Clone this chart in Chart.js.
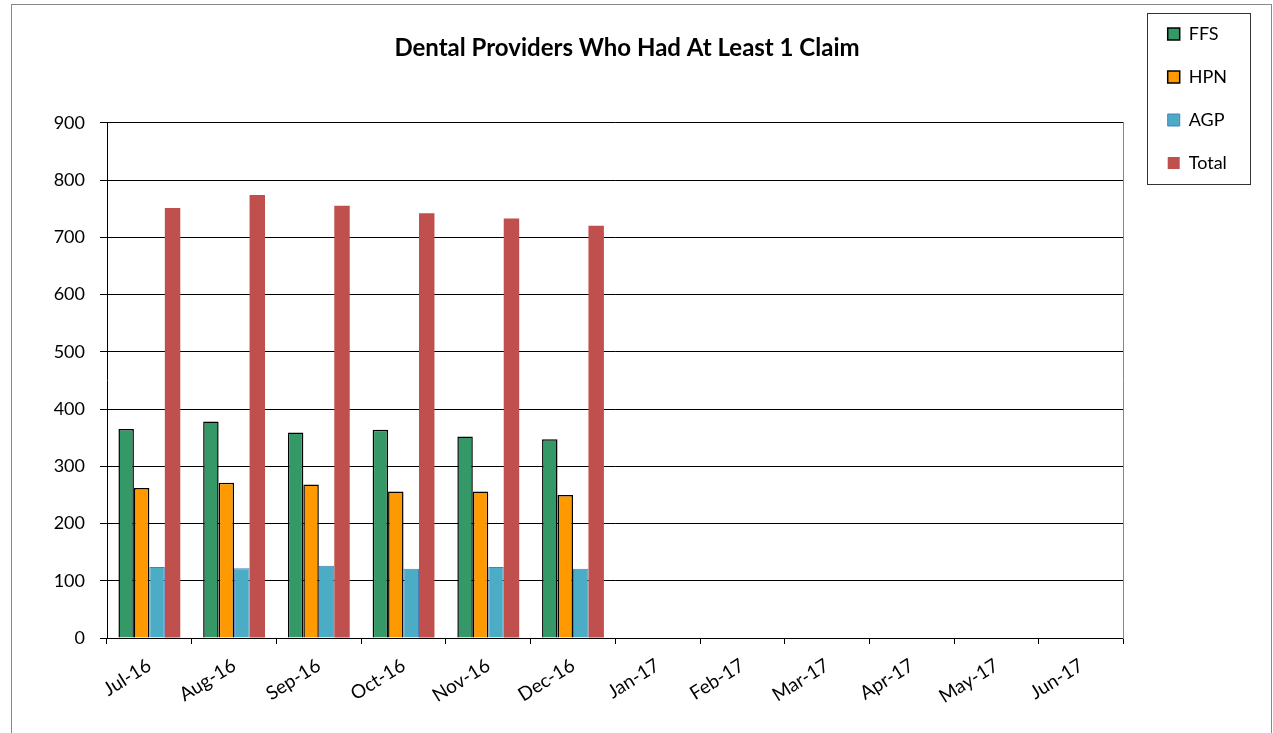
<!DOCTYPE html>
<html>
<head>
<meta charset="utf-8">
<script src="https://cdn.jsdelivr.net/npm/chart.js@4.4.0/dist/chart.umd.min.js"></script>
<style>
  html, body { margin: 0; padding: 0; background: #fff; overflow: hidden; }
  #wrap { position: absolute; left: 0; top: 0; width: 1273px; height: 733px; }
</style>
</head>
<body>
<div id="wrap"><canvas id="c" width="1273" height="733"></canvas></div>
<script>
const categories = ['Jul-16','Aug-16','Sep-16','Oct-16','Nov-16','Dec-16','Jan-17','Feb-17','Mar-17','Apr-17','May-17','Jun-17'];
const ffs   = [365, 378, 359, 364, 352, 347, null, null, null, null, null, null];
const hpn   = [262, 271, 268, 256, 256, 250, null, null, null, null, null, null];
const agp   = [124, 122, 126, 121, 124, 121, null, null, null, null, null, null];
const total = [751, 774, 755, 742, 733, 720, null, null, null, null, null, null];
const yTicks = [0, 100, 200, 300, 400, 500, 600, 700, 800, 900];
const titleText = 'Dental Providers Who Had At Least 1 Claim';

const FONT = 'Lato, "Open Sans", sans-serif';

const frame = {
  id: 'frame',
  beforeDraw(chart) {
    const ctx = chart.ctx;
    ctx.save();
    ctx.fillStyle = '#fff';
    ctx.fillRect(0, 0, chart.width, chart.height);
    ctx.strokeStyle = '#888';
    ctx.lineWidth = 1;
    ctx.strokeRect(11.5, 4.5, 1260, 800);
    ctx.restore();
  },
  afterDraw(chart) {
    const lg = chart.legend;
    if (!lg || !lg.legendHitBoxes || !lg.legendHitBoxes.length) return;
    const first = lg.legendHitBoxes[0];
    const ctx = chart.ctx;
    ctx.save();
    ctx.strokeStyle = '#333';
    ctx.lineWidth = 1;
    ctx.strokeRect(Math.round(first.left - 21) + 0.5, Math.round(first.top - 12) + 0.5, 103, 171);
    ctx.restore();
  }
};

new Chart(document.getElementById('c'), {
  type: 'bar',
  data: {
    labels: categories,
    datasets: [
      { label: 'FFS', data: ffs, backgroundColor: '#349966', borderColor: '#000', borderWidth: 1.5 },
      { label: 'HPN', data: hpn, backgroundColor: '#FF9900', borderColor: '#000', borderWidth: 1.5 },
      { label: 'AGP', data: agp, backgroundColor: '#4BACC6', borderColor: '#4A7EBB', borderWidth: 1 },
      { label: 'Total', data: total, backgroundColor: '#C0504D', borderColor: '#C0504D', borderWidth: 0 }
    ]
  },
  options: {
    responsive: false,
    animation: false,
    devicePixelRatio: 1,
    layout: { padding: { top: 0, left: 17, right: 36, bottom: 0 } },
    datasets: { bar: { categoryPercentage: 0.73, barPercentage: 1.0 } },
    plugins: {
      title: {
        display: true,
        text: titleText,
        color: '#000',
        font: { family: FONT, size: 24, weight: 'bold', lineHeight: 1.2 },
        padding: { top: 34, bottom: 60 }
      },
      legend: {
        display: true,
        position: 'right',
        align: 'start',
        labels: {
          color: '#000',
          font: { family: FONT, size: 18 },
          boxWidth: 12,
          boxHeight: 12,
          padding: 25
        }
      },
      tooltip: { enabled: false }
    },
    scales: {
      x: {
        grid: { display: true, drawOnChartArea: false, drawTicks: true, tickLength: 6, color: '#000', offset: true },
        border: { display: true, color: '#000', width: 1 },
        ticks: { color: '#000', font: { family: FONT, size: 19 }, minRotation: 32, maxRotation: 32, padding: 10, autoSkip: false },
        afterFit(scale) { scale.height = 95; }
      },
      y: {
        min: 0,
        max: 900,
        afterBuildTicks(scale) { scale.ticks = yTicks.map(v => ({ value: v })); },
        grid: { color: '#000', tickLength: 7, drawTicks: true },
        border: { display: true, color: '#000', width: 1 },
        ticks: { color: '#000', font: { family: FONT, size: 18 }, padding: 15 },
        afterFit(scale) { scale.width = 90; }
      },
      y2: {
        position: 'right',
        min: 0,
        max: 900,
        display: true,
        grid: { display: false, drawTicks: false },
        border: { display: true, color: '#888', width: 1 },
        ticks: { display: false },
        afterFit(scale) { scale.width = 19; }
      }
    }
  },
  plugins: [frame]
});
</script>
</body>
</html>
